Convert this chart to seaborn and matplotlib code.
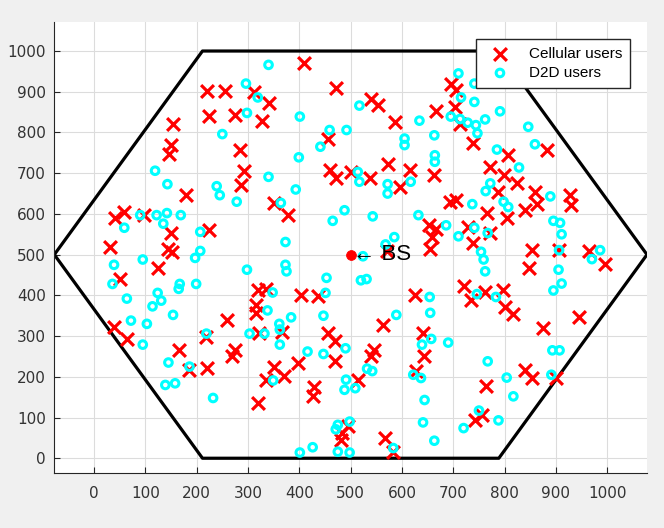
import numpy as np
import matplotlib
matplotlib.use("Agg")
import matplotlib.pyplot as plt
import seaborn as sns

# ---------------- data ----------------
cell_x = [221, 256, 225, 274, 153, 150, 146, 285, 293, 287, 180, 40, 59, 98, 150, 225, 31, 145, 151,
          410, 472, 312, 340, 327, 540, 553, 587, 667, 455, 459, 472, 501, 538, 572, 615, 663, 597,
          351, 377, 652, 667, 659, 654,
          695, 706, 703, 713, 739, 807, 882, 772, 798, 824, 788, 859, 928, 930, 863, 840, 804, 765,
          693, 706, 729, 772, 739, 854, 905, 965,
          124, 51, 38, 65, 166, 186, 221, 219, 259, 275, 269,
          570, 319, 335, 315, 315, 321, 367, 403, 436, 455, 470, 470, 397, 351, 371, 335, 429, 426,
          319, 514, 546, 539, 563, 626, 641, 642, 628, 481, 483, 566, 582, 494,
          848, 995, 721, 734, 762, 796, 800, 817, 874, 945, 840, 854, 900, 763, 755, 742]
cell_y = [902, 902, 840, 843, 820, 770, 746, 758, 706, 670, 646, 590, 605, 597, 553, 561, 519, 515, 507,
          971, 908, 900, 873, 828, 881, 867, 826, 853, 785, 707, 687, 703, 687, 722, 709, 695, 666,
          627, 597, 572, 564, 543, 515,
          920, 904, 863, 822, 773, 744, 757, 716, 695, 676, 654, 654, 646, 621, 625, 609, 589, 601,
          630, 634, 568, 553, 529, 512, 511, 509,
          466, 440, 322, 293, 265, 216, 221, 298, 340, 266, 252,
          508, 414, 416, 377, 357, 307, 311, 402, 398, 307, 287, 238, 234, 225, 201, 193, 176, 152,
          135, 193, 266, 250, 328, 402, 307, 250, 213, 45, 63, 49, 16, 80,
          466, 478, 422, 389, 407, 412, 371, 355, 320, 347, 216, 197, 197, 178, 107, 93]

d2d_x = [296, 298, 250, 119, 143, 239, 245, 278, 90, 122, 142, 135, 169, 59, 207, 207,
         340, 319, 401, 517, 634, 459, 492, 441, 605, 605, 663, 664, 664, 399, 340, 514, 517, 572,
         572, 617, 393, 364, 488, 465, 543, 632, 373, 585, 568, 686,
         710, 741, 715, 741, 791, 695, 713, 728, 744, 762, 747, 846, 859, 785, 828, 772, 763, 737,
         798, 807, 889, 895, 908, 911, 741, 767, 710, 754, 906, 986,
         95, 39, 36, 64, 124, 131, 114, 167, 165, 199, 197, 154, 72, 103, 95, 145, 186, 219, 139,
         158, 232, 298, 303,
         524, 373, 375, 453, 520, 531, 451, 348, 338, 447, 384, 361, 362, 332, 362, 416, 447, 490,
         589, 532, 542, 349, 491, 488, 509, 654, 655, 657, 639, 622, 637, 644, 641, 663, 475, 471,
         498, 475, 498, 426, 401, 583,
         759, 762, 905, 911, 895, 970, 746, 783, 690, 893, 907, 767, 804, 891, 817, 750, 788, 720]
d2d_y = [920, 848, 796, 706, 673, 668, 646, 630, 597, 597, 602, 576, 597, 566, 556, 509,
         966, 886, 839, 866, 829, 806, 806, 765, 785, 769, 793, 744, 728, 739, 691, 703, 679, 673,
         650, 679, 660, 627, 609, 583, 594, 597, 531, 543, 525, 572,
         945, 920, 886, 875, 852, 839, 833, 824, 818, 832, 798, 814, 771, 758, 714, 675, 656, 624,
         630, 617, 643, 583, 578, 550, 566, 553, 545, 507, 511, 511,
         488, 475, 428, 392, 406, 387, 373, 428, 416, 428, 492, 352, 338, 330, 279, 235, 225, 306, 180,
         184, 148, 463, 306,
         496, 475, 459, 443, 437, 440, 406, 407, 363, 350, 346, 330, 316, 306, 279, 262, 256, 270,
         352, 220, 214, 191, 193, 168, 172, 396, 357, 293, 279, 205, 197, 143, 88, 43, 82, 71,
         90, 16, 14, 27, 14, 25,
         488, 459, 463, 429, 412, 489, 403, 396, 284, 265, 265, 238, 198, 205, 152, 117, 93, 74]

bs_x = [500]
bs_y = [500]

R = 1000 / np.sqrt(3)
hex_x = [500 - R, 500 - R / 2, 500 + R / 2, 500 + R, 500 + R / 2, 500 - R / 2, 500 - R]
hex_y = [500, 1000, 1000, 500, 0, 0, 500]

ticks = list(range(0, 1001, 100))

# ---------------- figure ----------------
fig = plt.figure(figsize=(6.64, 5.28), dpi=100, facecolor="#f0f0f0")
ax = fig.add_axes([54.3 / 664, (528 - 473.3) / 528, (647 - 54.3) / 664, (473.3 - 21.7) / 528])
ax.set_facecolor("white")
fam = ["Liberation Sans", "DejaVu Sans"]
plt.rcParams["font.family"] = fam

sns.lineplot(x=hex_x, y=hex_y, sort=False, estimator=None, color="black", linewidth=2.3, ax=ax,
             zorder=2)
sns.scatterplot(x=cell_x, y=cell_y, marker="x", s=85, color="red", linewidth=2.3,
                label="Cellular users", ax=ax, zorder=3)
sns.scatterplot(x=d2d_x, y=d2d_y, marker="o", s=30, color="cyan", facecolors="none",
                edgecolor="cyan", linewidth=2.2, label="D2D users", ax=ax, zorder=4)
sns.scatterplot(x=bs_x, y=bs_y, marker="o", s=50, color="red", edgecolor="red", ax=ax, zorder=5)
ax.text(505, 500, "\u2190 BS", fontsize=16, va="center", ha="left", family=fam, color="black",
        zorder=6)

ax.set_xlim(500 - R, 500 + R)
ax.set_ylim(-37, 1072)
ax.set_xticks(ticks)
ax.set_yticks(ticks)
ax.set_xlabel("")
ax.set_ylabel("")
ax.grid(True, color="#dcdcdc", linewidth=0.8)
ax.set_axisbelow(True)
for s in ["top", "right"]:
    ax.spines[s].set_visible(False)
for s in ["left", "bottom"]:
    ax.spines[s].set_color("#262626")
    ax.spines[s].set_linewidth(0.8)
ax.tick_params(axis="both", direction="in", length=4, color="#262626", labelcolor="#333333",
               labelsize=11)
ax.tick_params(axis="x", pad=9)
ax.tick_params(axis="y", pad=6)

leg = ax.legend(loc="upper right", bbox_to_anchor=((630 - 54.3) / 592.7, (473.3 - 39) / 451.6),
                borderaxespad=0, fancybox=False, framealpha=1, edgecolor="#262626", fontsize=11,
                handletextpad=0.8, borderpad=0.5, labelspacing=0.35, handlelength=2.2)
leg.get_frame().set_linewidth(1.0)

fig.savefig("out.png", dpi=100, facecolor=fig.get_facecolor())
